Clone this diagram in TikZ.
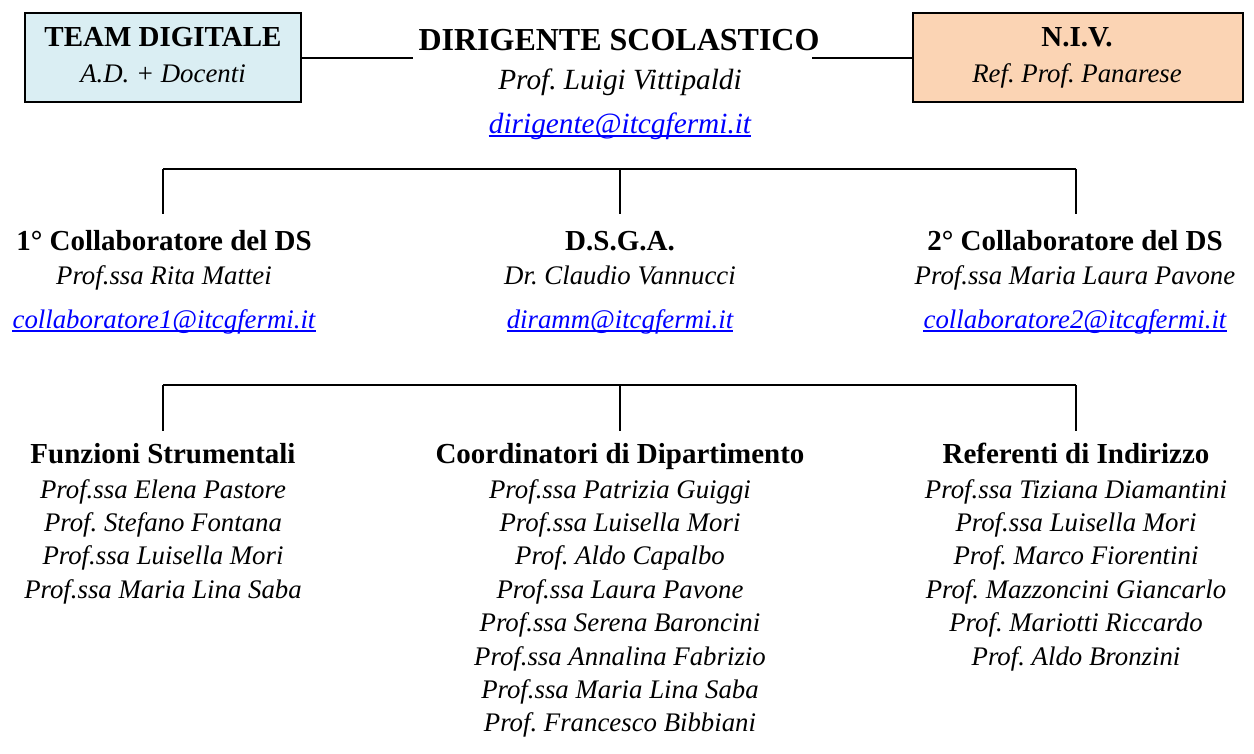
\documentclass[tikz,border=0pt]{standalone}
\usepackage{fontspec}
\setmainfont{Liberation Serif}
\definecolor{boxblue}{RGB}{218,238,243}
\definecolor{boxpeach}{RGB}{251,212,180}
\definecolor{linkblue}{RGB}{0,0,255}
\tikzset{
  hd/.style={anchor=base, inner sep=0pt, font=\frenchspacing\fontsize{29}{32}\selectfont\bfseries},
  bighd/.style={anchor=base, inner sep=0pt, font=\frenchspacing\fontsize{32}{36}\selectfont\bfseries},
  it/.style={anchor=base, inner sep=0pt, font=\frenchspacing\fontsize{26.8}{30}\selectfont\itshape},
  bigit/.style={anchor=base, inner sep=0pt, font=\frenchspacing\fontsize{29.3}{33}\selectfont\itshape},
  mail/.style={it, text=linkblue},
  bigmail/.style={bigit, text=linkblue},
  uline/.style={draw=linkblue, line width=1.3pt},
  conn/.style={draw=black, line width=1.6pt},
  topbox/.style={draw=black, line width=1.6pt, inner sep=0pt},
}
\begin{document}
\frenchspacing
\begin{tikzpicture}[x=1pt, y=-1pt]
\useasboundingbox (0,0) rectangle (1254,753);
\fill[white] (0,0) rectangle (1254,753);

% top boxes
\node[topbox, fill=boxblue, minimum width=276pt, minimum height=89pt] (tdbox) at (163,57.5) {};
\node[topbox, fill=boxpeach, minimum width=330pt, minimum height=89pt] (nivbox) at (1078,57.5) {};
\node[hd] (tdh) at (163,46) {TEAM DIGITALE};
\node[it] (tdt) at (163,82) {A.D. + Docenti};
\node[hd] (nivh) at (1077,46) {N.I.V.};
\node[it] (nivt) at (1077,82) {Ref. Prof. Panarese};

% Dirigente
\node[bighd] (dsh) at (619,50) {DIRIGENTE SCOLASTICO};
\node[bigit] (dsn) at (620,89) {Prof. Luigi Vittipaldi};
\node[bigmail] (dsm) at (620,133) {dirigente@itcgfermi.it};
\draw[uline] ([yshift=-3pt]dsm.base west) -- ([yshift=-3pt]dsm.base east);

\coordinate (dsL) at (413,58);
\coordinate (dsR) at (812,58);
\draw[conn] (tdbox.east |- dsL) -- (dsL);
\draw[conn] (dsR) -- (nivbox.west |- dsR);

% first tree
\coordinate (t1L) at (163,169);
\coordinate (t1C) at (620,169);
\coordinate (t1R) at (1076,169);
\coordinate (v1L) at (163,214);
\coordinate (v1C) at (620,214);
\coordinate (v1R) at (1076,214);
\draw[conn] (t1L) -- (t1R);
\draw[conn] (t1L) -- (v1L);
\draw[conn] (t1C) -- (v1C);
\draw[conn] (t1R) -- (v1R);

% middle row
\node[hd] (c1h) at (164,250) {1° Collaboratore del DS};
\node[it] (c1n) at (164,284) {Prof.ssa Rita Mattei};
\node[mail] (c1m) at (164,328) {collaboratore1@itcgfermi.it};
\draw[uline] ([yshift=-3pt]c1m.base west) -- ([yshift=-3pt]c1m.base east);

\node[hd] (dgh) at (620,250) {D.S.G.A.};
\node[it] (dgn) at (620,284) {Dr. Claudio Vannucci};
\node[mail] (dgm) at (620,328) {diramm@itcgfermi.it};
\draw[uline] ([yshift=-3pt]dgm.base west) -- ([yshift=-3pt]dgm.base east);

\node[hd] (c2h) at (1075,250) {2° Collaboratore del DS};
\node[it] (c2n) at (1075,284) {Prof.ssa Maria Laura Pavone};
\node[mail] (c2m) at (1075,328) {collaboratore2@itcgfermi.it};
\draw[uline] ([yshift=-3pt]c2m.base west) -- ([yshift=-3pt]c2m.base east);

% second tree
\coordinate (t2L) at (163,385);
\coordinate (t2C) at (620,385);
\coordinate (t2R) at (1076,385);
\coordinate (v2L) at (163,431);
\coordinate (v2C) at (620,431);
\coordinate (v2R) at (1076,431);
\draw[conn] (t2L) -- (t2R);
\draw[conn] (t2L) -- (v2L);
\draw[conn] (t2C) -- (v2C);
\draw[conn] (t2R) -- (v2R);

% bottom row
\node[hd] (fsh) at (163,463) {Funzioni Strumentali};
\node[it] (fs1) at (163,498) {Prof.ssa Elena Pastore};
\node[it] (fs2) at (163,531.4) {Prof. Stefano Fontana};
\node[it] (fs3) at (163,564.8) {Prof.ssa Luisella Mori};
\node[it] (fs4) at (163,598.2) {Prof.ssa Maria Lina Saba};

\node[hd] (cdh) at (620,463) {Coordinatori di Dipartimento};
\node[it] (cd1) at (620,498) {Prof.ssa Patrizia Guiggi};
\node[it] (cd2) at (620,531.4) {Prof.ssa Luisella Mori};
\node[it] (cd3) at (620,564.8) {Prof. Aldo Capalbo};
\node[it] (cd4) at (620,598.2) {Prof.ssa Laura Pavone};
\node[it] (cd5) at (620,631.6) {Prof.ssa Serena Baroncini};
\node[it] (cd6) at (620,665) {Prof.ssa Annalina Fabrizio};
\node[it] (cd7) at (620,698.4) {Prof.ssa Maria Lina Saba};
\node[it] (cd8) at (620,731.8) {Prof. Francesco Bibbiani};

\node[hd] (rih) at (1076,463) {Referenti di Indirizzo};
\node[it] (ri1) at (1076,498) {Prof.ssa Tiziana Diamantini};
\node[it] (ri2) at (1076,531.4) {Prof.ssa Luisella Mori};
\node[it] (ri3) at (1076,564.8) {Prof. Marco Fiorentini};
\node[it] (ri4) at (1076,598.2) {Prof. Mazzoncini Giancarlo};
\node[it] (ri5) at (1076,631.6) {Prof. Mariotti Riccardo};
\node[it] (ri6) at (1076,665) {Prof. Aldo Bronzini};
\end{tikzpicture}
\end{document}
